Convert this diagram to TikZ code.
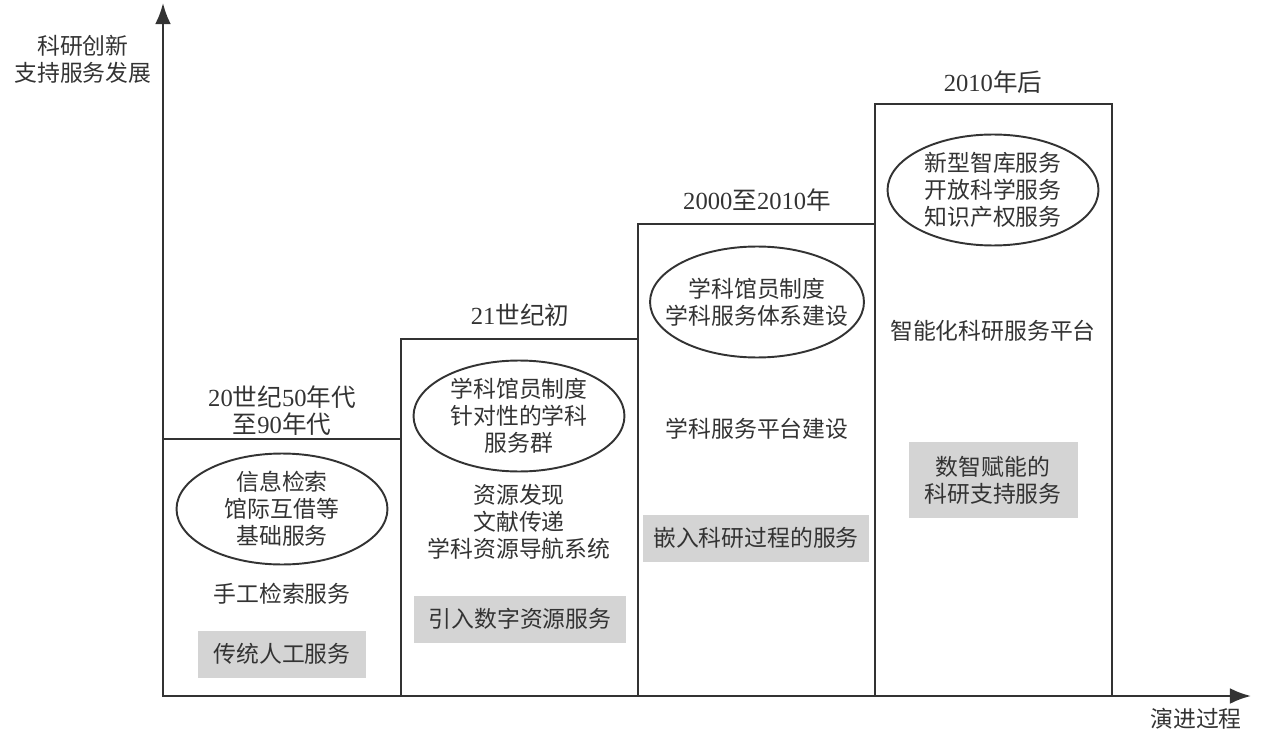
\documentclass[tikz,border=0pt]{standalone}
\usepackage{fontspec}
\setmainfont{Liberation Serif}
\newfontfamily\cjk{Noto Sans CJK SC}
\usetikzlibrary{arrows.meta,shapes.geometric}
\definecolor{inkgray}{HTML}{333333}
\definecolor{fillgray}{HTML}{D4D4D4}
\newcommand{\zh}[1]{{\cjk #1}}
\tikzset{
  txt/.style={text=inkgray, align=center, inner sep=0pt, font=\fontsize{13}{15.4}\selectfont\cjk},
  yeartxt/.style={text=inkgray, align=center, inner sep=0pt, font=\fontsize{14}{15.4}\selectfont},
  oval/.style={txt, draw=inkgray, line width=1.1pt, ellipse, minimum width=4.22cm, minimum height=2.22cm},
  tag/.style={txt, fill=fillgray, minimum height=0.94cm},
  stage/.style={draw=inkgray, line width=1.3pt},
}
\begin{document}
\begin{tikzpicture}[x=0.02cm, y=-0.02cm]
    \useasboundingbox (0,0) rectangle (1263,729);

    % 坐标轴
    \coordinate (o) at (163,696);
    \coordinate (ytip) at (163,3);
    \coordinate (xtip) at (1251,696);
    \draw[stage, -{Latex[length=12pt,width=9pt]}] (o) -- (ytip);
    \draw[stage, -{Latex[length=12pt,width=9pt]}] (o) -- (xtip);
    \node[txt] (ylab) at (83,59) {科研创新\\支持服务发展};
    \node[txt] (xlab) at (1196,719) {演进过程};

    % 四个阶段
    \draw[stage] (163,696) rectangle (401,439);
    \draw[stage] (401,696) rectangle (638,339);
    \draw[stage] (638,696) rectangle (875,224);
    \draw[stage] (875,696) rectangle (1112,104);

    % 时间
    \node[yeartxt] (t1) at (282,411) {20\zh{世纪}50\zh{年代}\\\zh{至}90\zh{年代}};
    \node[yeartxt] (t2) at (520,315) {21\zh{世纪初}};
    \node[yeartxt] (t3) at (757,200) {2000\zh{至}2010\zh{年}};
    \node[yeartxt] (t4) at (993,82) {2010\zh{年后}};

    % 第一阶段
    \node[oval] (e1) at (282,509) {信息检索\\馆际互借等\\基础服务};
    \node[txt] (s1) at (282,594) {手工检索服务};
    \node[tag, minimum width=3.38cm] (g1) at (282,654) {传统人工服务};

    % 第二阶段
    \node[oval] (e2) at (519,416) {学科馆员制度\\针对性的学科\\服务群};
    \node[txt] (s2) at (519,522) {资源发现\\文献传递\\学科资源导航系统};
    \node[tag, minimum width=4.24cm] (g2) at (520,619) {引入数字资源服务};

    % 第三阶段
    \node[oval, minimum width=4.28cm, inner xsep=-0.32cm] (e3) at (757,302) {学科馆员制度\\学科服务体系建设};
    \node[txt] (s3) at (757,429) {学科服务平台建设};
    \node[tag, minimum width=4.54cm] (g3) at (756,538) {嵌入科研过程的服务};

    % 第四阶段
    \node[oval] (e4) at (993,190) {新型智库服务\\开放科学服务\\知识产权服务};
    \node[txt] (s4) at (993,331) {智能化科研服务平台};
    \node[tag, minimum width=3.38cm, minimum height=1.54cm] (g4) at (993,480) {数智赋能的\\科研支持服务};
\end{tikzpicture}
\end{document}
